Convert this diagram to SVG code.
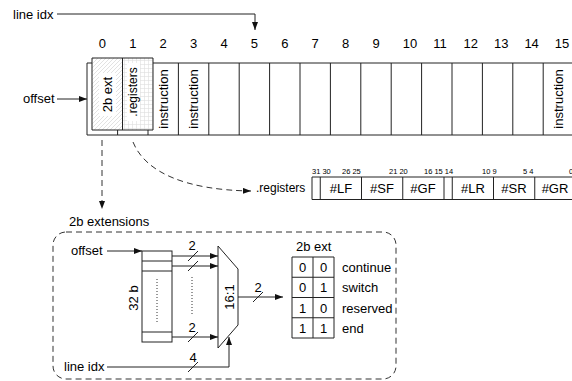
<svg xmlns="http://www.w3.org/2000/svg" width="572" height="381" viewBox="0 0 572 381">
<style>
text{font-family:"Liberation Sans",Arial,sans-serif;font-size:13px;fill:#000}
.ln{stroke:#222;stroke-width:1;fill:none}
.arr{stroke:#222;stroke-width:1;fill:none;marker-end:url(#ah)}
.dash{stroke:#333;stroke-width:1;fill:none;stroke-dasharray:6,4}
.dot{stroke:#333;stroke-width:1;fill:none;stroke-dasharray:1,2}
.bit{font-size:7.5px}
.mid{text-anchor:middle}
.c{text-anchor:middle;dominant-baseline:central}
</style>
<defs>
<marker id="ah" markerUnits="userSpaceOnUse" markerWidth="8" markerHeight="6" refX="8" refY="3" orient="auto"><path d="M0,0 L8,3 L0,6 z" fill="#111"/></marker>
<pattern id="hatch" patternUnits="userSpaceOnUse" width="4" height="4"><rect width="4" height="4" fill="#fff"/><path d="M-1,1 L1,-1 M0,4 L4,0 M3,5 L5,3" stroke="#cfcfcf" stroke-width="0.6"/></pattern>
<pattern id="grid" patternUnits="userSpaceOnUse" width="4" height="4"><rect width="4" height="4" fill="#fff"/><path d="M0,0.5 H4 M0.5,0 V4" stroke="#dedede" stroke-width="0.6"/></pattern>
</defs>

<g id="top-labels">
<text x="13" y="19">line idx</text>
<text x="98.8" y="48">0</text>
<text x="129.2" y="48">1</text>
<text x="159.6" y="48">2</text>
<text x="190" y="48">3</text>
<text x="220.4" y="48">4</text>
<text x="250.8" y="48">5</text>
<text x="281.2" y="48">6</text>
<text x="311.6" y="48">7</text>
<text x="342" y="48">8</text>
<text x="372.4" y="48">9</text>
<text x="402.8" y="48">10</text>
<text x="433.2" y="48">11</text>
<text x="463.6" y="48">12</text>
<text x="494" y="48">13</text>
<text x="524.4" y="48">14</text>
<text x="554.8" y="48">15</text>
<text x="23" y="103">offset</text>
</g>

<g id="cache-line">
<path class="ln" d="M87,63 H572 M87,135 H572 M87,63 V135 M117.6,63 V135 M148,63 V135 M178.4,63 V135 M208.8,63 V135 M239.2,63 V135 M269.6,63 V135 M300,63 V135 M330.4,63 V135 M360.8,63 V135 M391.2,63 V135 M421.6,63 V135 M452,63 V135 M482.4,63 V135 M512.8,63 V135 M543.2,63 V135"/>
<text class="c" transform="translate(163.2,99) rotate(-90)">instruction</text>
<text class="c" transform="translate(193.6,99) rotate(-90)">instruction</text>
<text class="c" transform="translate(558.4,99) rotate(-90)">instruction</text>
</g>

<g id="raised-cells">
<rect x="92" y="58" width="30.5" height="72" fill="url(#hatch)"/>
<rect x="122.5" y="58" width="30.5" height="72" fill="url(#grid)"/>
<rect x="99" y="73" width="17" height="43" fill="#fff"/>
<rect x="127" y="63" width="13" height="58" fill="#fff"/>
<path class="ln" d="M92,58 H153 V130 H92 Z M122.5,58 V130"/>
<text class="c" transform="translate(107.5,94.5) rotate(-90)">2b ext</text>
<text class="c" style="font-size:12px" transform="translate(133,92) rotate(-90)">.registers</text>
</g>

<g id="register-fields">
<text class="bit" x="312" y="174">31 30</text>
<text class="bit" x="342" y="174">26 25</text>
<text class="bit" x="389" y="174">21 20</text>
<text class="bit" x="424" y="174">16 15 14</text>
<text class="bit" x="482" y="174">10 9</text>
<text class="bit" x="523" y="174">5 4</text>
<text class="bit" x="569" y="174">0</text>
<path class="ln" d="M572,177 H312 V199.5 H572 M320.25,177 V199.5 M361.5,177 V199.5 M402.75,177 V199.5 M444,177 V199.5 M452.25,177 V199.5 M493.5,177 V199.5 M534.75,177 V199.5"/>
<text class="mid" x="341" y="193">#LF</text>
<text class="mid" x="382" y="193">#SF</text>
<text class="mid" x="423" y="193">#GF</text>
<text class="mid" x="473" y="193">#LR</text>
<text class="mid" x="514" y="193">#SR</text>
<text class="mid" x="555" y="193">#GR</text>
<text x="256" y="192" style="font-size:12px">.registers</text>
</g>

<g id="ext-box">
<text x="69" y="226">2b extensions</text>
<rect class="dash" x="53" y="232" width="343" height="147" rx="13" ry="13"/>
<text x="71" y="255">offset</text>
<text x="64" y="371">line idx</text>
<rect x="142" y="251" width="30" height="91" fill="#fff" stroke="#222"/>
<path class="ln" d="M142,261 H172 M142,271 H172 M142,332 H172"/>
<path class="dot" d="M157,279 V322"/>
<text class="c" transform="translate(133,298) rotate(-90)">32 b</text>
<path class="dot" d="M192,277 V316"/>
<polygon points="218,246 238,269 238,325 218,348" fill="#fff" stroke="#222"/>
<text class="c" transform="translate(229,297) rotate(-90)">16:1</text>
<text class="mid" x="192" y="250">2</text>
<text class="mid" x="192" y="332">2</text>
<text class="mid" x="193" y="362">4</text>
<text class="mid" x="258" y="292">2</text>
<path class="ln" d="M188,261 L198,251 M188,271 L198,261 M188,342 L198,332 M188,372 L198,362 M253,302 L263,292"/>
</g>

<g id="ext-table">
<text x="296" y="251">2b ext</text>
<path class="ln" d="M292,257 H334 V338 H292 Z M313,257 V338 M292,277.25 H334 M292,297.5 H334 M292,317.75 H334"/>
<text class="mid" x="302.5" y="272">0</text><text class="mid" x="323.5" y="272">0</text>
<text class="mid" x="302.5" y="292">0</text><text class="mid" x="323.5" y="292">1</text>
<text class="mid" x="302.5" y="312.5">1</text><text class="mid" x="323.5" y="312.5">0</text>
<text class="mid" x="302.5" y="332.5">1</text><text class="mid" x="323.5" y="332.5">1</text>
<text x="342" y="272">continue</text>
<text x="342" y="292">switch</text>
<text x="342" y="312.5">reserved</text>
<text x="342" y="332.5">end</text>
</g>

<g id="connectors">
<path class="arr" d="M57,14 H255 V30"/>
<path class="arr" d="M57,99 H87"/>
<path class="dash" marker-end="url(#ah)" d="M102,140 V209"/>
<path class="dash" marker-end="url(#ah)" d="M133,142 C145,172 185,190 251,191"/>
<path class="arr" d="M107,251 H142"/>
<path class="arr" d="M172,256 H218"/>
<path class="arr" d="M172,266 H218"/>
<path class="arr" d="M172,337 H218"/>
<path class="arr" d="M238,297 H283"/>
<path class="arr" d="M107,367 H229 V337"/>
</g>
</svg>
